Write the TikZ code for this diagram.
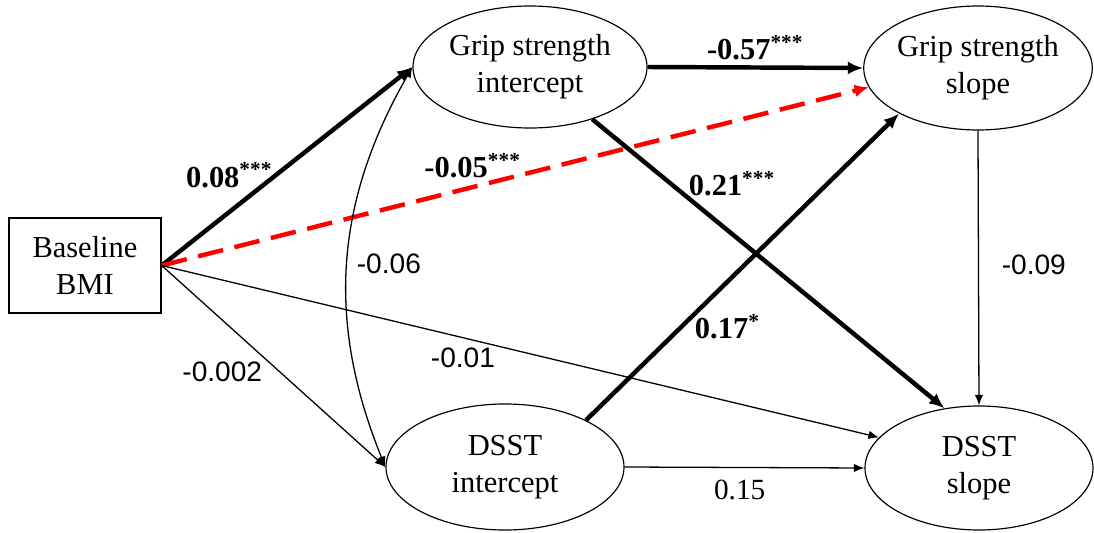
\documentclass[tikz,border=0pt]{standalone}
\usepackage{fontspec}
\setmainfont{Liberation Serif}
\setsansfont{Liberation Sans}
\usetikzlibrary{shapes.geometric, arrows.meta}
\tikzset{
    x=0.015cm, y=-0.015cm, % one unit = one pixel of the layout
    latent/.style={ellipse, draw, line width=0.5pt, inner sep=0pt, align=center,
        minimum width=3.42cm, minimum height=1.86cm,
        font=\fontsize{13}{15.8}\selectfont}, % growth factors
    observed/.style={rectangle, draw, line width=0.6pt, align=center,
        minimum width=2.28cm, minimum height=1.425cm,
        font=\fontsize{13}{15.8}\selectfont},
    sig/.style={-{Latex[length=6.5pt, width=5.5pt]}, line width=1.9pt}, % significant paths
    nonsig/.style={-{Latex[length=4.5pt, width=3.6pt]}, line width=0.55pt},
    cov/.style={{Latex[length=4.5pt, width=3.6pt]}-{Latex[length=4.5pt, width=3.6pt]}, line width=0.55pt},
    neg/.style={-{Latex[length=6pt, width=5.5pt]}, red, line width=1.9pt,
        dash pattern=on 11pt off 5pt},
    coef/.style={text=black, font=\bfseries\fontsize{13}{15}\selectfont},
    plain/.style={font=\sffamily\fontsize{12}{14}\selectfont},
}
\begin{document}
\begin{tikzpicture}
    \useasboundingbox (0,0) rectangle (1094,533);

    \node[observed] (bmi) at (85,265.5) {Baseline\\BMI};
    \node[latent, minimum width=3.51cm, minimum height=1.83cm] (gi) at (530,67) {Grip strength\\intercept};
    \node[latent] (gs) at (978,68) {Grip strength\\slope};
    \node[latent, minimum width=3.57cm, minimum height=1.89cm] (di) at (505,467) {DSST\\intercept};
    \node[latent] (ds) at (979,468) {DSST\\slope};

    \path
        (bmi.east) edge[sig] node[coef, pos=.27, yshift=.55cm] {0.08\textsuperscript{***}} (gi.west)
                   edge[neg] node[coef, pos=.44, yshift=.32cm] {-0.05\textsuperscript{***}} (gs.190)
                   edge[nonsig] node[plain, pos=.53, xshift=-.87cm] {-0.002} (di.west)
                   edge[nonsig] node[plain, pos=.42, yshift=-.3cm] {-0.01} (ds.163)
        (gi.east) edge[sig] node[coef, pos=.5, yshift=.3cm] {-0.57\textsuperscript{***}} (gs.west)
        (gi.-40) edge[sig] node[coef, pos=.223, xshift=.92cm] {0.21\textsuperscript{***}} (ds.120)
        (di.30) edge[sig] node[coef, pos=.305, xshift=.69cm] {0.17\textsuperscript{*}} (gs.210)
        (di.east) edge[nonsig] node[pos=.48, yshift=-.33cm, font=\fontsize{12.5}{14}\selectfont] {0.15} (ds.west)
        (gs.south) edge[nonsig] node[plain, pos=.49, xshift=.83cm] {-0.09} (ds.north);

    \draw[cov] (gi.west) to[bend right=26] node[plain, pos=.5, xshift=.62cm] {-0.06} (di.west);
\end{tikzpicture}
\end{document}
